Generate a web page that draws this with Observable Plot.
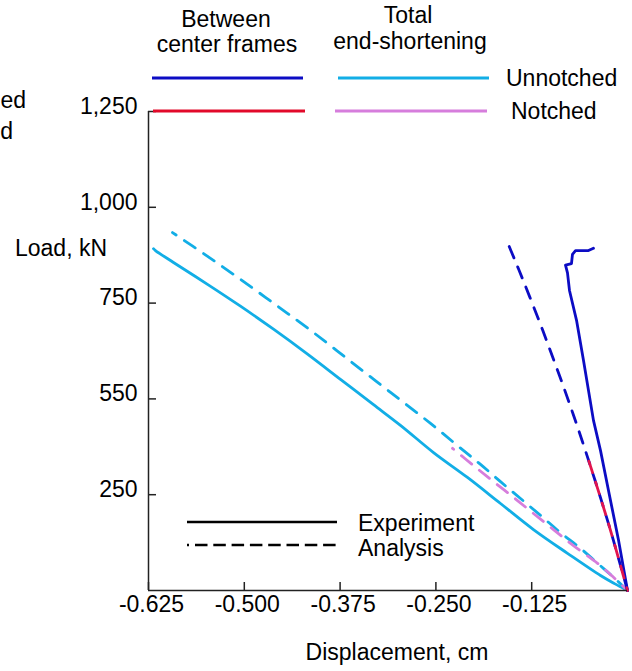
<!DOCTYPE html>
<html><head><meta charset="utf-8">
<script src="https://cdn.jsdelivr.net/npm/d3@7"></script>
<script src="https://cdn.jsdelivr.net/npm/@observablehq/plot@0.6"></script>
<style>
body{margin:0;background:#fff;}
#wrap{position:relative;width:632px;height:671px;overflow:hidden;font-family:"Liberation Sans",Arial,sans-serif;}
#wrap svg{position:absolute;left:0;top:0;}
</style></head><body><div id="wrap"></div>
<script>
// ---- data (displacement cm, load kN) ----
const xDomain = [-0.625, 0];
const yDomain = [0, 1250];
const xTicks = [-0.625, -0.5, -0.375, -0.25, -0.125];
const xTickLabels = ["-0.625", "-0.500", "-0.375", "-0.250", "-0.125"];
const yTicks = [250, 500, 750, 1000, 1250];
const yTickLabels = ["250", "550", "750", "1,000", "1,250"];

// Unnotched, total end-shortening, experiment
const unTotalExp = [[0,0],[-0.0170,18],[-0.0352,39],[-0.0783,97],[-0.1227,159],[-0.1657,227],[-0.2088,295],[-0.2531,360],[-0.2962,431],[-0.3314,485],[-0.3745,551],[-0.4175,617],[-0.4619,682],[-0.5050,742],[-0.5480,799],[-0.5924,856],[-0.6159,887],[-0.6185,892]];
// Unnotched, total end-shortening, analysis
const unTotalAna = [[0,0],[-0.0196,37],[-0.0391,71],[-0.0613,110],[-0.0874,151],[-0.1135,196],[-0.1396,240],[-0.1657,284],[-0.1918,329],[-0.2218,378],[-0.2570,436],[-0.3092,517],[-0.3614,598],[-0.4136,679],[-0.4593,746],[-0.5050,812],[-0.5493,874],[-0.5937,934]];
// Notched, total end-shortening, analysis
const noTotalAna = [[0,0],[-0.0196,37],[-0.0391,71],[-0.0705,117],[-0.0966,159],[-0.1227,201],[-0.1487,243],[-0.1748,284],[-0.2009,326],[-0.2283,371]];
// Unnotched, between center frames, experiment
const unFramesExp = [[0,0],[-0.0117,131],[-0.0248,261],[-0.0352,365],[-0.0444,444],[-0.0574,600],[-0.0665,705],[-0.0757,783],[-0.0783,829],[-0.0809,849],[-0.0731,853],[-0.0718,877],[-0.0678,887],[-0.0509,887],[-0.0444,893]];
// Unnotched, between center frames, analysis
const unFramesAna = [[0,0],[-0.0109,78],[-0.0222,157],[-0.0321,222],[-0.0423,287],[-0.0528,352],[-0.0637,418],[-0.0749,483],[-0.0864,548],[-0.0984,613],[-0.1106,679],[-0.1232,744],[-0.1361,809],[-0.1467,861],[-0.1592,921]];
// Notched, between center frames, analysis
const noFramesAna = [[0,0],[-0.0109,78],[-0.0222,157],[-0.0321,222],[-0.0423,287],[-0.0540,360]];

const toRows = a => a.map(([x, y]) => ({x, y}));

const cBlue = "#0c0cc4", cCyan = "#12aee6", cRed = "#e20a2a", cRedLine = "#e2144e", cViolet = "#d67ddc";
const FONT = "'Liberation Sans', Arial, sans-serif";

const plot = Plot.plot({
  width: 632, height: 671,
  marginLeft: 148, marginRight: 5, marginTop: 111, marginBottom: 81,
  style: {fontFamily: FONT, fontSize: "23px", color: "#000", background: "transparent"},
  x: {domain: xDomain},
  y: {domain: yDomain},
  marks: [
    Plot.line(toRows(unTotalExp), {x: "x", y: "y", stroke: cCyan, strokeWidth: 2.8, curve: "catmull-rom"}),
    Plot.line(toRows(unTotalAna), {x: "x", y: "y", stroke: cCyan, strokeWidth: 2.8, strokeDasharray: "13,10", curve: "catmull-rom"}),
    Plot.line(toRows(noTotalAna), {x: "x", y: "y", stroke: cViolet, strokeWidth: 2.8, strokeDasharray: "13,10", strokeDashoffset: 6, curve: "catmull-rom"}),
    Plot.line(toRows(unFramesExp), {x: "x", y: "y", stroke: cBlue, strokeWidth: 2.8}),
    Plot.line(toRows(unFramesAna), {x: "x", y: "y", stroke: cBlue, strokeWidth: 2.8, strokeDasharray: "12,10", curve: "catmull-rom"}),
    Plot.line(toRows(noFramesAna), {x: "x", y: "y", stroke: cRedLine, strokeWidth: 2.8, strokeDasharray: "12,10", strokeDashoffset: 9, curve: "catmull-rom"}),
    Plot.ruleX([xDomain[0]], {stroke: "#222", strokeWidth: 1.5}),
    Plot.ruleY([yDomain[0]], {stroke: "#222", strokeWidth: 1.5}),
    Plot.axisY(yTicks, {anchor: "left", tickSize: -8, fill: "none", stroke: "#222", strokeWidth: 1.5, label: null}),
    Plot.axisY(yTicks, {anchor: "left", tickSize: 0, tickPadding: 11, dy: -5, tickFormat: d => yTickLabels[yTicks.indexOf(d)], fill: "#000", label: null}),
    Plot.axisX(xTicks, {anchor: "bottom", tickSize: -8, fill: "none", stroke: "#222", strokeWidth: 1.5, label: null}),
    Plot.axisX(xTicks, {anchor: "bottom", tickSize: 0, tickPadding: 5, dx: 3, tickFormat: d => xTickLabels[xTicks.indexOf(d)], fill: "#000", label: null})
  ]
});

const wrap = document.getElementById("wrap");
wrap.appendChild(plot);

// ---- overlay: titles, legends, axis titles ----
const ov = d3.select(wrap).append("svg").attr("width", 632).attr("height", 671)
  .style("font-family", FONT).style("font-size", "23px");

const texts = [
  {t: "Between", x: 226, y: 27, a: "middle"},
  {t: "center frames", x: 227, y: 52, a: "middle"},
  {t: "Total", x: 408, y: 23, a: "middle"},
  {t: "end-shortening", x: 410, y: 49, a: "middle"},
  {t: "Unnotched", x: 506, y: 86, a: "start"},
  {t: "Notched", x: 511, y: 119, a: "start"},
  {t: "Experiment", x: 358, y: 531, a: "start"},
  {t: "Analysis", x: 358, y: 556, a: "start"},
  {t: "Load, kN", x: 15, y: 256, a: "start"},
  {t: "Displacement, cm", x: 397, y: 660, a: "middle"},
  {t: "ed", x: 26, y: 108, a: "end"},
  {t: "d", x: 13, y: 139, a: "end"}
];
ov.selectAll("text").data(texts).join("text")
  .attr("x", d => d.x).attr("y", d => d.y).attr("text-anchor", d => d.a).attr("fill", "#000").text(d => d.t);

const lines = [
  {x1: 152, x2: 303, y: 78, c: cBlue, w: 3},
  {x1: 338, x2: 489, y: 78, c: cCyan, w: 3},
  {x1: 153, x2: 305, y: 111, c: cRed, w: 3},
  {x1: 335, x2: 487, y: 111, c: cViolet, w: 3},
  {x1: 187, x2: 337, y: 522, c: "#000", w: 2.5},
  {x1: 187, x2: 189, y: 545, c: "#000", w: 2.5},
  {x1: 195, x2: 337, y: 545, c: "#000", w: 2.5, dash: "12.5,5.8"}
];
ov.selectAll("line").data(lines).join("line")
  .attr("x1", d => d.x1).attr("x2", d => d.x2).attr("y1", d => d.y).attr("y2", d => d.y)
  .attr("stroke", d => d.c).attr("stroke-width", d => d.w)
  .attr("stroke-dasharray", d => d.dash || null);
</script>
</body></html>
